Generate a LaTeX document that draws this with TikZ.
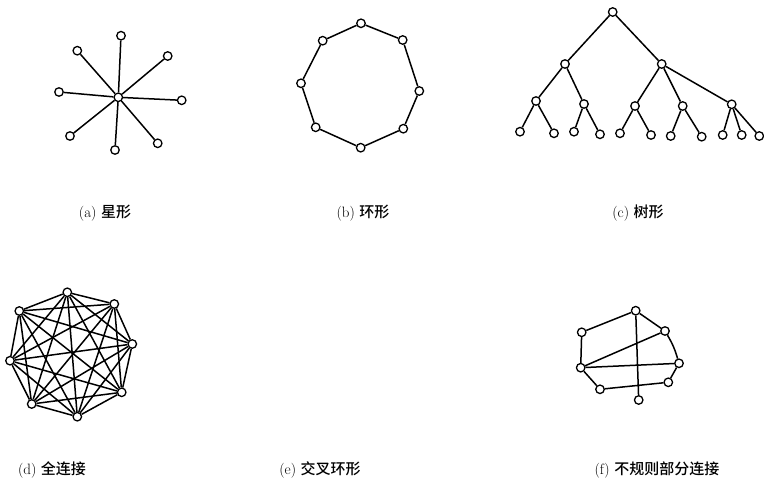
\documentclass[tikz,border=0pt]{standalone}
\usepackage{fontspec}
\newfontfamily\cjk{Noto Sans CJK SC}[BoldFont={Noto Sans CJK SC Medium}]
\begin{document}
\begin{tikzpicture}[x=1pt,y=-1pt,
  vtx/.style={circle,draw,fill=white,inner sep=0pt,minimum size=8.5pt,line width=1.3pt},
  edge/.style={line width=1.5pt},
  lbl/.style={font=\fontsize{15}{17}\selectfont}]
\useasboundingbox (0,0) rectangle (764,495);

% (a) star
\node[vtx] (ac) at (118.3,97.3) {};
\node[vtx] (a1) at (121,35.7) {};
\node[vtx] (a2) at (167.7,56) {};
\node[vtx] (a3) at (181.7,100.3) {};
\node[vtx] (a4) at (157.7,143.3) {};
\node[vtx] (a5) at (115,150) {};
\node[vtx] (a6) at (70,136) {};
\node[vtx] (a7) at (59,92) {};
\node[vtx] (a8) at (77.3,50.7) {};
\foreach \i in {1,...,8} \draw[edge] (ac) -- (a\i);

% (b) ring
\node[vtx] (b1) at (361,23.3) {};
\node[vtx] (b2) at (402.7,40) {};
\node[vtx] (b3) at (419.3,91) {};
\node[vtx] (b4) at (403.3,128.7) {};
\node[vtx] (b5) at (360.7,147.7) {};
\node[vtx] (b6) at (315.7,127.3) {};
\node[vtx] (b7) at (301,83.3) {};
\node[vtx] (b8) at (322.7,40.7) {};
\draw[edge] (b1)--(b2)--(b3)--(b4)--(b5)--(b6)--(b7)--(b8)--(b1);

% (c) tree
\node[vtx] (r) at (612.7,12) {};
\node[vtx] (p1) at (565,64) {};
\node[vtx] (p2) at (661.7,64) {};
\node[vtx] (q1) at (536,101) {};
\node[vtx] (q2) at (584,104) {};
\node[vtx] (q3) at (635,106) {};
\node[vtx] (q4) at (682.7,106) {};
\node[vtx] (q5) at (731.7,104.3) {};
\node[vtx] (l1) at (520,131.7) {};
\node[vtx] (l2) at (554,133.3) {};
\node[vtx] (l3) at (574,131.7) {};
\node[vtx] (l4) at (600,134.3) {};
\node[vtx] (l5) at (620,133.3) {};
\node[vtx] (l6) at (651,135) {};
\node[vtx] (l7) at (670.7,136) {};
\node[vtx] (l8) at (701.7,136.7) {};
\node[vtx] (l9) at (722.7,135) {};
\node[vtx] (l10) at (741.7,135) {};
\node[vtx] (l11) at (759.3,136) {};
\draw[edge] (r)--(p1) (r)--(p2)
  (p1)--(q1) (p1)--(q2) (p2)--(q3) (p2)--(q4) (p2)--(q5)
  (q1)--(l1) (q1)--(l2) (q2)--(l3) (q2)--(l4)
  (q3)--(l5) (q3)--(l6) (q4)--(l7) (q4)--(l8)
  (q5)--(l9) (q5)--(l10) (q5)--(l11);

% (d) full connection
\node[vtx] (d1) at (67.3,292.3) {};
\node[vtx] (d2) at (114.3,304) {};
\node[vtx] (d3) at (132.3,344) {};
\node[vtx] (d4) at (121.7,392.3) {};
\node[vtx] (d5) at (77.3,416.7) {};
\node[vtx] (d6) at (31.7,404) {};
\node[vtx] (d7) at (10,360.7) {};
\node[vtx] (d8) at (19.3,311) {};
\foreach \i in {1,...,7}{
  \pgfmathtruncatemacro\nxt{\i+1}
  \foreach \j in {\nxt,...,8}{\draw[edge] (d\i) -- (d\j);}
}

% (f) irregular partial connection
\node[vtx] (f1) at (635.7,310.7) {};
\node[vtx] (f2) at (665,331) {};
\node[vtx] (f3) at (679,363.3) {};
\node[vtx] (f4) at (668.3,382.3) {};
\node[vtx] (f5) at (600,389.3) {};
\node[vtx] (f6) at (580.7,367.7) {};
\node[vtx] (f7) at (581.7,332.3) {};
\node[vtx] (f8) at (638.7,400) {};
\draw[edge] (f7)--(f1)--(f2) (f3)--(f4)--(f5)--(f6)--(f7)
  (f6)--(f2) (f6)--(f3) (f1)--(f8);
\draw[edge] (f2) to[bend left=7] (f3);

% labels
\node[lbl] (la) at (105,213) {(a)\ {\cjk\bfseries 星形}};
\node[lbl] (lb) at (363,213) {(b)\ {\cjk\bfseries 环形}};
\node[lbl] (lc) at (638,213) {(c)\ {\cjk\bfseries 树形}};
\node[lbl] (ld) at (52,470) {(d)\ {\cjk\bfseries 全连接}};
\node[lbl] (le) at (320,470) {(e)\ {\cjk\bfseries 交叉环形}};
\node[lbl] (lf) at (657,470) {(f)\ {\cjk\bfseries 不规则部分连接}};
\end{tikzpicture}
\end{document}
